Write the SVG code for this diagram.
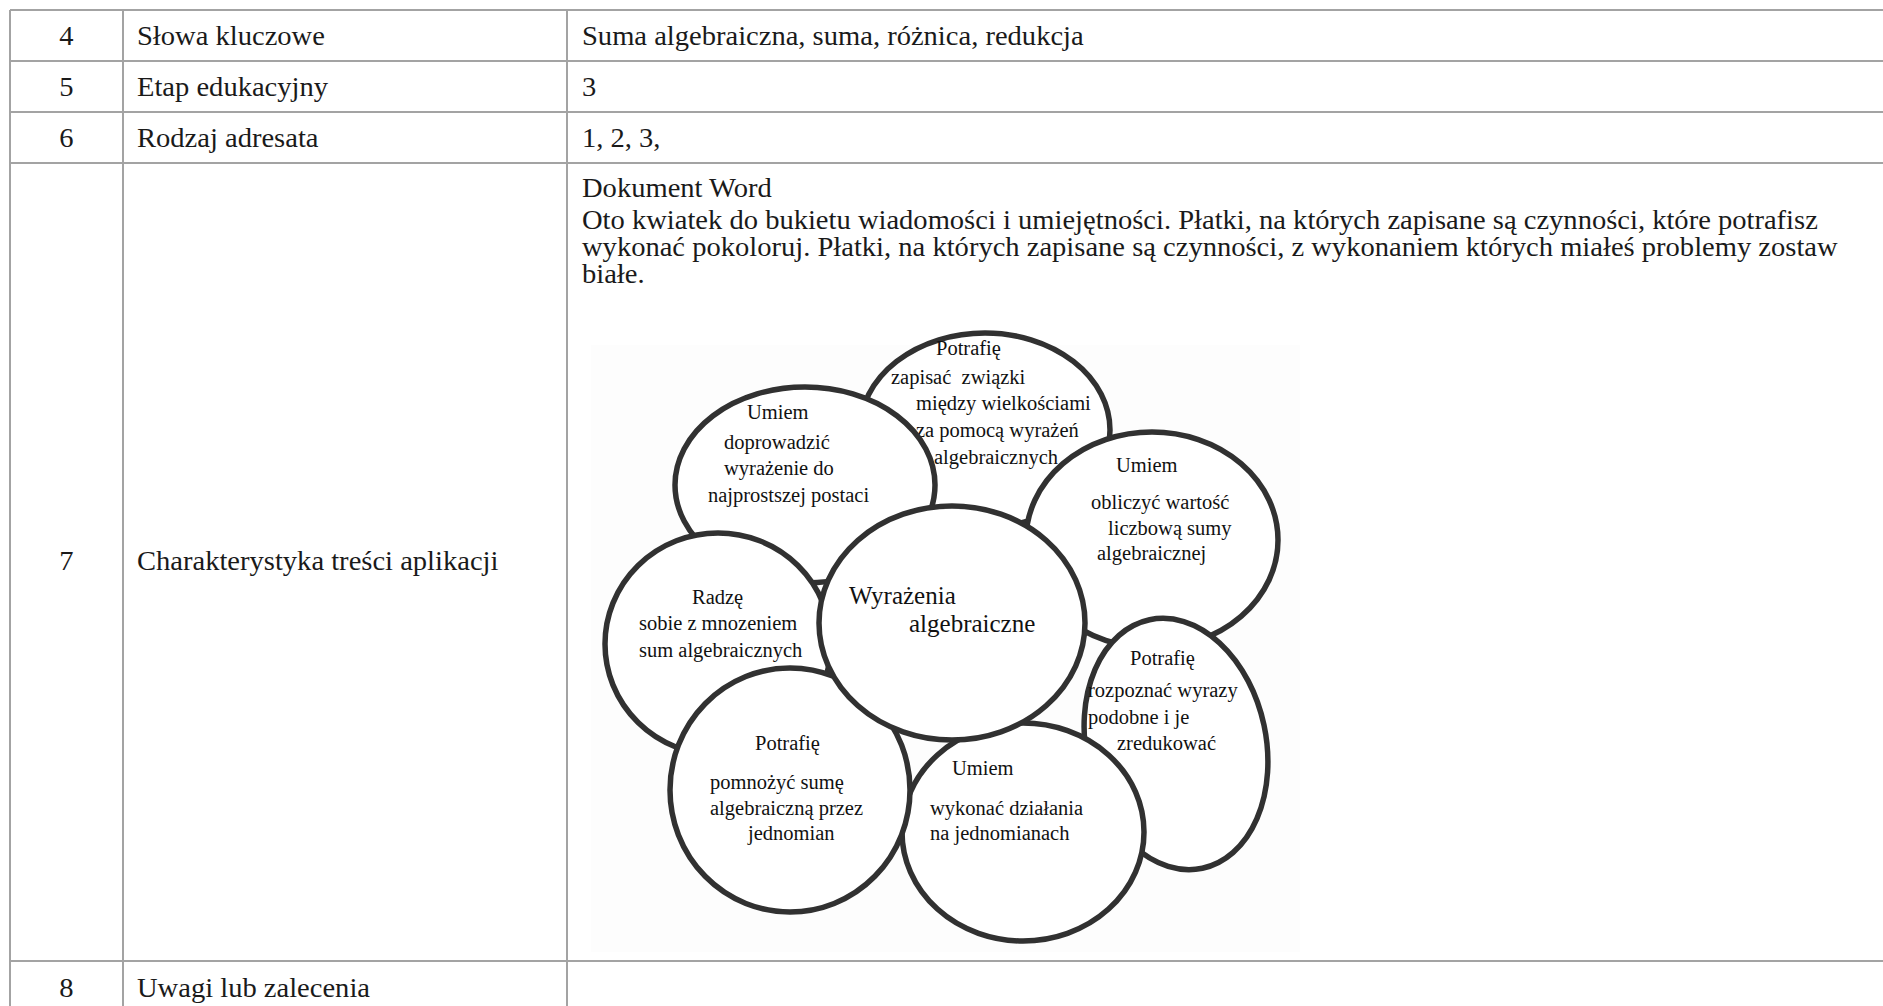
<svg xmlns="http://www.w3.org/2000/svg" width="1883" height="1006" viewBox="0 0 1883 1006">
  <style>
    .grid{stroke:#a3a3a3;stroke-width:2;fill:none}
    .cell{font-family:"Liberation Serif","Times New Roman",serif;font-size:28px;fill:#1a1a1a}
    .num{text-anchor:middle}
    .petal{fill:#fff;stroke:#313131;stroke-width:5.5}
    .ptxt{font-family:"Liberation Serif","Times New Roman",serif;font-size:20.5px;fill:#111}
    .big{font-size:25px}
  </style>
  <rect width="1883" height="1006" fill="#fff"/>

  <!-- table rules -->
  <g id="table-grid" class="grid">
    <line x1="10" y1="10" x2="1883" y2="10"/>
    <line x1="10" y1="61" x2="1883" y2="61"/>
    <line x1="10" y1="112" x2="1883" y2="112"/>
    <line x1="10" y1="163" x2="1883" y2="163"/>
    <line x1="10" y1="961" x2="1883" y2="961"/>
    <line x1="10" y1="10" x2="10" y2="1006"/>
    <line x1="123" y1="10" x2="123" y2="1006"/>
    <line x1="567" y1="10" x2="567" y2="1006"/>
  </g>

  <!-- table cell texts -->
  <g id="table-text" class="cell">
    <text class="num" transform="translate(66.5 45) scale(1.02 1)">4</text>
    <text transform="translate(137 45) scale(1.02 1)">Słowa kluczowe</text>
    <text transform="translate(582 45) scale(1.02 1)">Suma algebraiczna, suma, różnica, redukcja</text>

    <text class="num" transform="translate(66.5 96) scale(1.02 1)">5</text>
    <text transform="translate(137 96) scale(1.02 1)">Etap edukacyjny</text>
    <text transform="translate(582 96) scale(1.02 1)">3</text>

    <text class="num" transform="translate(66.5 147) scale(1.02 1)">6</text>
    <text transform="translate(137 147) scale(1.02 1)">Rodzaj adresata</text>
    <text transform="translate(582 147) scale(1.02 1)">1, 2, 3,</text>

    <text class="num" transform="translate(66.5 570) scale(1.02 1)">7</text>
    <text transform="translate(137 570) scale(1.02 1)">Charakterystyka treści aplikacji</text>
    <text transform="translate(582 197) scale(1.02 1)">Dokument Word</text>
    <text transform="translate(582 229) scale(1.02 1)">Oto kwiatek do bukietu wiadomości i umiejętności. Płatki, na których zapisane są czynności, które potrafisz</text>
    <text transform="translate(582 256) scale(1.02 1)">wykonać pokoloruj. Płatki, na których zapisane są czynności, z wykonaniem których miałeś problemy zostaw</text>
    <text transform="translate(582 283) scale(1.02 1)">białe.</text>

    <text class="num" transform="translate(66.5 997) scale(1.02 1)">8</text>
    <text transform="translate(137 997) scale(1.02 1)">Uwagi lub zalecenia</text>
  </g>

  <!-- flower picture -->
  <rect x="591" y="345" width="709" height="607" fill="#fdfdfd"/>

  <g id="petal-top">
    <ellipse class="petal" cx="985" cy="430" rx="125" ry="97"/>
    <g class="ptxt">
      <text x="936" y="355">Potrafię</text>
      <text x="891" y="384" xml:space="preserve">zapisać  związki</text>
      <text x="916" y="410">między wielkościami</text>
      <text x="916" y="437">za pomocą wyrażeń</text>
      <text x="934" y="464">algebraicznych</text>
    </g>
  </g>

  <g id="petal-upper-left">
    <ellipse class="petal" cx="805" cy="485" rx="130" ry="98"/>
    <g class="ptxt">
      <text x="747" y="419">Umiem</text>
      <text x="724" y="449">doprowadzić</text>
      <text x="724" y="475">wyrażenie do</text>
      <text x="708" y="502">najprostszej postaci</text>
    </g>
  </g>

  <g id="petal-left">
    <ellipse class="petal" cx="718" cy="644" rx="113" ry="111"/>
    <g class="ptxt">
      <text x="692" y="604">Radzę</text>
      <text x="639" y="630">sobie z mnozeniem</text>
      <text x="639" y="657">sum algebraicznych</text>
    </g>
  </g>

  <g id="petal-right">
    <ellipse class="petal" cx="1152" cy="540" rx="126" ry="108"/>
    <g class="ptxt">
      <text x="1116" y="472">Umiem</text>
      <text x="1091" y="509">obliczyć wartość</text>
      <text x="1108" y="535">liczbową sumy</text>
      <text x="1097" y="560">algebraicznej</text>
    </g>
  </g>

  <g id="petal-lower-right">
    <ellipse class="petal" cx="1176" cy="744" rx="90" ry="127" transform="rotate(-12 1176 744)"/>
    <g class="ptxt">
      <text x="1130" y="665">Potrafię</text>
      <text x="1088" y="697">rozpoznać wyrazy</text>
      <text x="1088" y="724">podobne i je</text>
      <text x="1117" y="750">zredukować</text>
    </g>
  </g>

  <g id="petal-bottom">
    <ellipse class="petal" cx="1023" cy="832" rx="121" ry="109"/>
    <g class="ptxt">
      <text x="952" y="775">Umiem</text>
      <text x="930" y="815">wykonać działania</text>
      <text x="930" y="840">na jednomianach</text>
    </g>
  </g>

  <g id="petal-lower-left">
    <ellipse class="petal" cx="790" cy="790" rx="120" ry="122"/>
    <g class="ptxt">
      <text x="755" y="750">Potrafię</text>
      <text x="710" y="789">pomnożyć sumę</text>
      <text x="710" y="815">algebraiczną przez</text>
      <text x="748" y="840">jednomian</text>
    </g>
  </g>

  <g id="flower-centre">
    <ellipse class="petal" cx="952" cy="623" rx="133" ry="117"/>
    <g class="ptxt big">
      <text x="849" y="604">Wyrażenia</text>
      <text x="909" y="632">algebraiczne</text>
    </g>
  </g>
</svg>
